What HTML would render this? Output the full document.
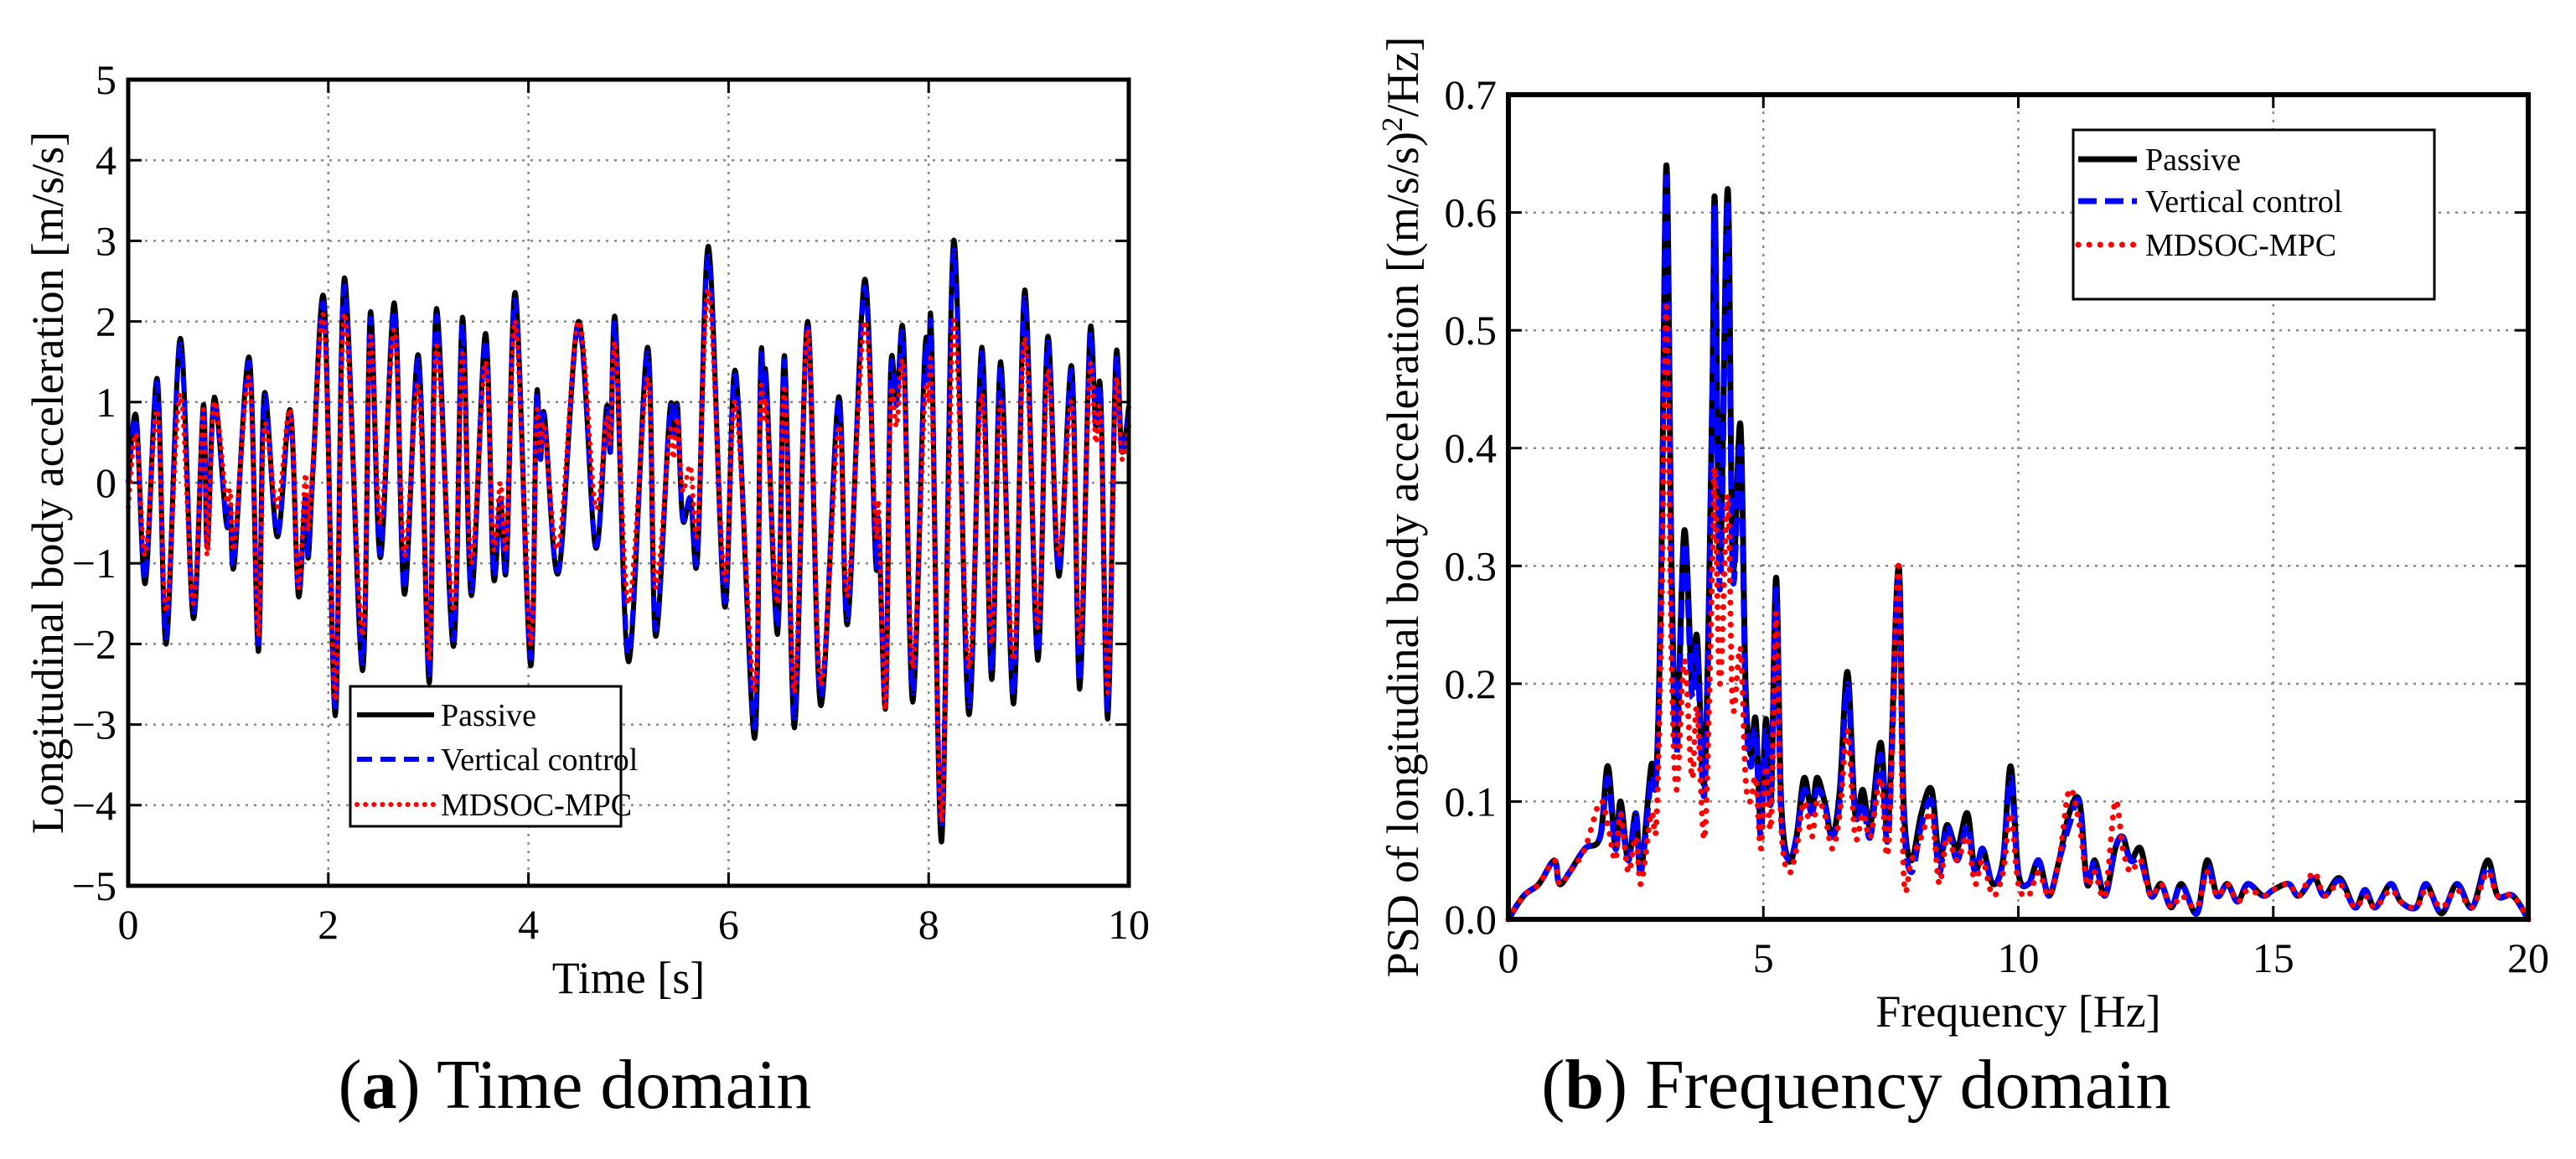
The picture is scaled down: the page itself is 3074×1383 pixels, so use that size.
<!DOCTYPE html>
<html><head><meta charset="utf-8"><style>
html,body{margin:0;padding:0;background:#fff;}
svg{display:block;font-family:"Liberation Serif",serif;}
</style></head><body>
<svg id="fig" width="3074" height="1383" viewBox="0 0 3074 1383">
<g id="left"></g>
<g id="right"></g>
<text x="686" y="1322" font-size="84" text-anchor="middle">(<tspan font-weight="bold">a</tspan>) Time domain</text>
<text x="2215" y="1322" font-size="84" text-anchor="middle">(<tspan font-weight="bold">b</tspan>) Frequency domain</text>
</svg>
<script>
// ---------- Time domain data ----------
const tTimes=[0.00,0.08,0.17,0.29,0.38,0.52,0.65,0.75,0.79,0.86,0.98,1.02,1.06,1.21,1.30,1.36,1.49,1.62,1.70,1.77,1.80,1.85,1.96,2.07,2.16,2.34,2.42,2.52,2.66,2.76,2.90,3.01,3.08,3.25,3.34,3.43,3.57,3.65,3.72,3.78,3.87,4.02,4.08,4.12,4.16,4.30,4.50,4.67,4.78,4.82,4.87,5.00,5.19,5.27,5.41,5.45,5.49,5.54,5.62,5.69,5.80,5.96,6.07,6.26,6.32,6.35,6.38,6.49,6.56,6.66,6.79,6.92,7.10,7.19,7.36,7.47,7.50,7.57,7.62,7.68,7.75,7.84,7.96,8.00,8.03,8.13,8.25,8.40,8.53,8.63,8.72,8.85,8.96,9.09,9.19,9.30,9.43,9.51,9.61,9.67,9.72,9.79,9.87,9.93,10.0];
const tPassive=[0.0,0.82,-1.25,1.29,-2.0,1.79,-1.68,0.96,-0.8,1.06,-0.5,-0.3,-1.01,1.55,-2.09,1.1,-0.67,0.9,-1.4,-0.17,-0.93,0.24,2.24,-2.89,2.54,-2.33,2.11,-0.93,2.23,-1.38,1.58,-2.48,2.16,-2.03,2.05,-1.4,1.85,-1.16,-0.2,-1.06,2.35,-2.26,1.06,0.3,0.84,-1.12,2.0,-0.8,0.93,0.4,2.0,-2.22,1.68,-1.9,0.86,0.6,0.95,-0.45,-0.2,-0.93,2.93,-1.53,1.38,-3.17,1.42,1.1,1.23,-1.88,1.57,-3.04,2.0,-2.76,1.06,-1.75,2.52,-0.97,-0.5,-2.78,1.38,1.0,1.79,-2.72,1.57,1.3,1.77,-4.45,3.0,-2.87,1.68,-2.44,1.5,-2.74,2.39,-2.2,1.81,-1.16,1.44,-2.56,1.83,0.7,1.08,-2.93,1.53,0.39,0.95];
const tVertical=[0.0,0.78,-1.2,1.24,-1.92,1.72,-1.6,0.92,-0.77,1.02,-0.48,-0.29,-0.97,1.49,-2.0,1.06,-0.64,0.86,-1.34,-0.16,-0.89,0.23,2.15,-2.78,2.44,-2.24,2.03,-0.89,2.14,-1.32,1.52,-2.38,2.07,-1.95,1.97,-1.34,1.78,-1.11,-0.19,-1.02,2.26,-2.17,1.02,0.29,0.81,-1.08,1.95,-0.77,0.89,0.38,1.92,-2.13,1.61,-1.82,0.83,0.58,0.91,-0.43,-0.19,-0.89,2.81,-1.47,1.32,-3.04,1.36,1.06,1.18,-1.8,1.51,-2.92,1.92,-2.65,1.02,-1.68,2.42,-0.93,-0.48,-2.67,1.32,0.96,1.72,-2.61,1.51,1.25,1.7,-4.27,2.88,-2.76,1.61,-2.34,1.44,-2.63,2.29,-2.11,1.74,-1.11,1.38,-2.46,1.76,0.67,1.04,-2.81,1.47,0.37,0.91];
const tMdsoc=[-0.3,0.6,-0.9,0.9,-1.6,1.1,-1.5,0.9,-0.9,1.0,-0.2,-0.1,-0.8,1.3,-1.9,0.7,-0.3,0.9,-1.3,0.1,-0.6,0.3,2.0,-2.7,2.1,-1.9,1.8,-0.5,1.9,-0.9,1.2,-2.2,1.7,-1.6,1.6,-1.0,1.5,-0.8,0.0,-0.8,2.0,-2.0,0.8,0.4,0.7,-0.8,2.0,-0.3,0.8,0.5,1.7,-1.5,1.3,-1.3,0.6,0.3,0.8,-0.1,0.2,-0.6,2.4,-1.2,1.0,-2.6,1.0,0.8,0.9,-1.5,1.2,-2.6,1.9,-2.5,0.7,-1.4,2.0,-0.6,-0.3,-2.8,1.0,0.7,1.4,-2.3,1.0,1.0,1.2,-4.2,2.0,-2.3,1.1,-2.0,1.0,-2.2,1.8,-1.8,1.4,-0.9,1.0,-2.0,1.4,0.5,0.8,-2.6,1.2,0.3,0.7];
const tXTicks=[0,2,4,6,8,10];
const tYTicks=[-5,-4,-3,-2,-1,0,1,2,3,4,5];
// ---------- Frequency domain data ----------
const fFreqs=[0,0.3,0.6,0.9,1.0,1.2,1.5,1.8,1.95,2.1,2.2,2.35,2.5,2.6,2.8,2.9,3.0,3.1,3.2,3.3,3.45,3.6,3.7,3.85,4.0,4.05,4.15,4.3,4.4,4.55,4.65,4.75,4.85,4.95,5.05,5.15,5.25,5.35,5.5,5.65,5.8,5.95,6.05,6.2,6.35,6.5,6.65,6.8,6.95,7.1,7.3,7.45,7.65,7.75,7.9,8.1,8.3,8.45,8.6,8.8,9.0,9.15,9.3,9.5,9.7,9.85,10.0,10.2,10.4,10.6,10.8,11.0,11.2,11.35,11.5,11.7,11.9,12.05,12.2,12.4,12.6,12.8,13.0,13.2,13.5,13.7,13.9,14.1,14.3,14.5,14.8,15.0,15.3,15.5,15.8,16.0,16.3,16.6,16.8,17.0,17.3,17.5,17.8,18.0,18.3,18.6,18.9,19.2,19.4,19.7,20];
const fPassive=[0,0.02,0.03,0.05,0.03,0.04,0.06,0.07,0.13,0.06,0.10,0.05,0.09,0.04,0.13,0.12,0.30,0.64,0.30,0.15,0.33,0.20,0.24,0.12,0.45,0.61,0.30,0.62,0.30,0.42,0.20,0.14,0.17,0.08,0.17,0.10,0.29,0.10,0.05,0.07,0.12,0.09,0.12,0.10,0.07,0.11,0.21,0.09,0.11,0.08,0.15,0.08,0.30,0.10,0.05,0.09,0.11,0.05,0.08,0.06,0.09,0.04,0.06,0.03,0.05,0.13,0.04,0.03,0.05,0.02,0.05,0.09,0.10,0.03,0.05,0.02,0.06,0.07,0.05,0.06,0.02,0.03,0.01,0.03,0.005,0.05,0.02,0.03,0.015,0.03,0.02,0.025,0.03,0.02,0.035,0.02,0.035,0.01,0.025,0.01,0.03,0.015,0.01,0.03,0.005,0.03,0.01,0.05,0.02,0.02,0];
const fVertical=[0,0.02,0.03,0.05,0.03,0.04,0.06,0.07,0.12,0.06,0.09,0.05,0.09,0.04,0.12,0.12,0.29,0.63,0.29,0.14,0.32,0.19,0.23,0.11,0.44,0.60,0.28,0.61,0.29,0.40,0.19,0.13,0.16,0.07,0.16,0.10,0.28,0.09,0.05,0.07,0.11,0.09,0.11,0.10,0.07,0.10,0.20,0.09,0.10,0.07,0.14,0.07,0.29,0.09,0.04,0.08,0.10,0.04,0.08,0.05,0.08,0.04,0.06,0.03,0.05,0.12,0.04,0.03,0.05,0.02,0.05,0.08,0.10,0.03,0.05,0.02,0.06,0.07,0.05,0.05,0.02,0.03,0.01,0.03,0.005,0.045,0.02,0.03,0.015,0.03,0.02,0.025,0.03,0.02,0.035,0.02,0.033,0.01,0.025,0.01,0.03,0.015,0.01,0.03,0.005,0.03,0.01,0.045,0.02,0.02,0];
const fMdsoc=[0,0.02,0.03,0.05,0.03,0.04,0.06,0.10,0.08,0.05,0.09,0.04,0.07,0.03,0.09,0.08,0.25,0.52,0.22,0.11,0.22,0.12,0.18,0.07,0.30,0.38,0.20,0.36,0.18,0.23,0.12,0.10,0.12,0.06,0.13,0.08,0.26,0.08,0.04,0.06,0.10,0.07,0.10,0.09,0.06,0.09,0.16,0.07,0.09,0.07,0.12,0.06,0.30,0.04,0.05,0.07,0.09,0.03,0.07,0.05,0.07,0.03,0.05,0.02,0.04,0.09,0.03,0.02,0.04,0.02,0.05,0.11,0.08,0.03,0.04,0.02,0.10,0.06,0.04,0.05,0.02,0.03,0.01,0.02,0.01,0.04,0.02,0.03,0.015,0.025,0.02,0.025,0.03,0.02,0.04,0.02,0.03,0.01,0.02,0.01,0.025,0.015,0.01,0.025,0.01,0.025,0.01,0.04,0.02,0.02,0];
const fXTicks=[0,5,10,15,20];
const fYTicks=[0,0.1,0.2,0.3,0.4,0.5,0.6,0.7];

const NS="http://www.w3.org/2000/svg";
function mk(parent,tag,attrs){const e=document.createElementNS(NS,tag);for(const k in attrs)e.setAttribute(k,attrs[k]);parent.appendChild(e);return e;}
function smoothPath(xs,ys){
  const n=Math.min(xs.length,ys.length);
  if(n<2)return "";
  let d="M"+xs[0].toFixed(1)+","+ys[0].toFixed(1);
  for(let i=0;i<n-1;i++){
    const a=Math.max(i-1,0),c=Math.min(i+2,n-1);
    const x0=xs[a],y0=ys[a],x1=xs[i],y1=ys[i],x2=xs[i+1],y2=ys[i+1],x3=xs[c],y3=ys[c];
    const c1x=x1+(x2-x0)/6,c1y=y1+(y2-y0)/6,c2x=x2-(x3-x1)/6,c2y=y2-(y3-y1)/6;
    d+=" C"+c1x.toFixed(1)+","+c1y.toFixed(1)+" "+c2x.toFixed(1)+","+c2y.toFixed(1)+" "+x2.toFixed(1)+","+y2.toFixed(1);
  }
  return d;
}
function chart(g,cfg){
  const L=cfg.L,R=cfg.R,T=cfg.T,B=cfg.B,xmin=cfg.xmin,xmax=cfg.xmax,ymin=cfg.ymin,ymax=cfg.ymax;
  const sx=v=>L+(v-xmin)/(xmax-xmin)*(R-L);
  const sy=v=>B-(v-ymin)/(ymax-ymin)*(B-T);
  cfg.xt.forEach(v=>{
    const x=sx(v);
    if(v!==xmin&&v!==xmax){const gl=mk(g,"line",{x1:x,y1:T,x2:x,y2:B,stroke:"#888","stroke-width":2.5,"stroke-dasharray":"3 7"});
    
    }
    mk(g,"line",{x1:x,y1:B,x2:x,y2:B-16,stroke:"#000","stroke-width":3});
    mk(g,"line",{x1:x,y1:T,x2:x,y2:T+16,stroke:"#000","stroke-width":3});
    const t=mk(g,"text",{x:x,y:B+63,"font-size":50,"text-anchor":"middle"});t.textContent=cfg.xfmt(v);
    
    
  });
  cfg.yt.forEach(v=>{
    const y=sy(v);
    if(v!==ymin&&v!==ymax){const gl=mk(g,"line",{x1:L,y1:y,x2:R,y2:y,stroke:"#888","stroke-width":2.5,"stroke-dasharray":"3 7"});
    
    }
    mk(g,"line",{x1:L,y1:y,x2:L+16,y2:y,stroke:"#000","stroke-width":3});
    mk(g,"line",{x1:R,y1:y,x2:R-16,y2:y,stroke:"#000","stroke-width":3});
    const t=mk(g,"text",{x:L-14,y:y+17,"font-size":50,"text-anchor":"end"});t.textContent=cfg.yfmt(v);
    
    
  });
  const xl=mk(g,"text",{x:(L+R)/2,y:B+128,"font-size":54,"text-anchor":"middle"});xl.textContent=cfg.xlabel;
  
  
  const yl=mk(g,"text",{x:0,y:0,"font-size":54,"text-anchor":"middle",transform:"translate("+cfg.ylx+","+((T+B)/2)+") rotate(-90)"});
  yl.textContent=cfg.ylabel;
  if(cfg.ysup){const sp=mk(yl,"tspan",{"baseline-shift":"super","font-size":35});sp.textContent="2";const rest=mk(yl,"tspan",{});rest.textContent=cfg.ysup;}
  
  
  const styles=[
    {c:"#000",da:"none",w:cfg.lw,cap:"butt"},
    {c:"#0000ff",da:cfg.dash,w:cfg.lw,cap:"butt"},
    {c:"#ff0000",da:cfg.dot,w:cfg.lw,cap:"round"}];
  cfg.series.forEach((s,i)=>{
    const n=Math.min(cfg.xs.length,s.length);
    const xs=cfg.xs.slice(0,n).map(sx),ys=s.slice(0,n).map(sy);
    const p=mk(g,"path",{d:smoothPath(xs,ys),fill:"none",stroke:styles[i].c,"stroke-width":styles[i].w,"stroke-dasharray":styles[i].da,"stroke-linecap":styles[i].cap,"stroke-linejoin":"round"});
    
    
  });
  const fr=mk(g,"rect",{x:L,y:T,width:R-L,height:B-T,fill:"none",stroke:"#000","stroke-width":cfg.fw});
  
  
  const lg=cfg.leg;
  const lr=mk(g,"rect",{x:lg.x,y:lg.y,width:lg.w,height:lg.h,fill:"#fff",stroke:"#000","stroke-width":3});
  
  
  const labels=["Passive","Vertical control","MDSOC-MPC"];
  labels.forEach((lab,i)=>{
    const y=lg.rows[i];
    const ln=mk(g,"line",{x1:lg.lx1,y1:y,x2:lg.lx2,y2:y,stroke:styles[i].c,"stroke-width":styles[i].w,"stroke-dasharray":styles[i].da,"stroke-linecap":styles[i].cap});
    
    
    const t=mk(g,"text",{x:lg.tx,y:y+13,"font-size":lg.fs});t.textContent=lab;
    
    
  });
}
chart(document.getElementById("left"),{L:153,R:1347,T:95,B:1057,xmin:0,xmax:10,ymin:-5,ymax:5,
  xt:tXTicks,yt:tYTicks,xfmt:v=>String(v),yfmt:v=>(v<0?"\u2212"+(-v):String(v)),
  xs:tTimes,series:[tPassive,tVertical,tMdsoc],names:["passive-line","vertical-control-line","mdsoc-mpc-line"],
  lw:6,dash:"18 10",dot:"0.1 10",fw:5,
  leg:{x:418,y:819,w:323,h:167,rows:[853,906,960],lx1:426,lx2:518,tx:526,fs:38},
  xlabel:"Time [s]",ylx:75,ylabel:"Longitudinal body acceleration [m/s/s]"});
chart(document.getElementById("right"),{L:1800,R:3017,T:113,B:1097,xmin:0,xmax:20,ymin:0,ymax:0.7,
  xt:fXTicks,yt:fYTicks,xfmt:v=>String(v),yfmt:v=>v.toFixed(1),
  xs:fFreqs,series:[fPassive,fVertical,fMdsoc],names:["passive-psd-line","vertical-control-psd-line","mdsoc-mpc-psd-line"],
  lw:7,dash:"22 10",dot:"0.1 13",fw:6,
  leg:{x:2474,y:155,w:431,h:202,rows:[190,240,292],lx1:2480,lx2:2550,tx:2560,fs:38},
  xlabel:"Frequency [Hz]",ylx:1692,ylabel:"PSD of longitudinal body acceleration [(m/s/s)",ysup:"/Hz]"});
</script>
</body></html>
